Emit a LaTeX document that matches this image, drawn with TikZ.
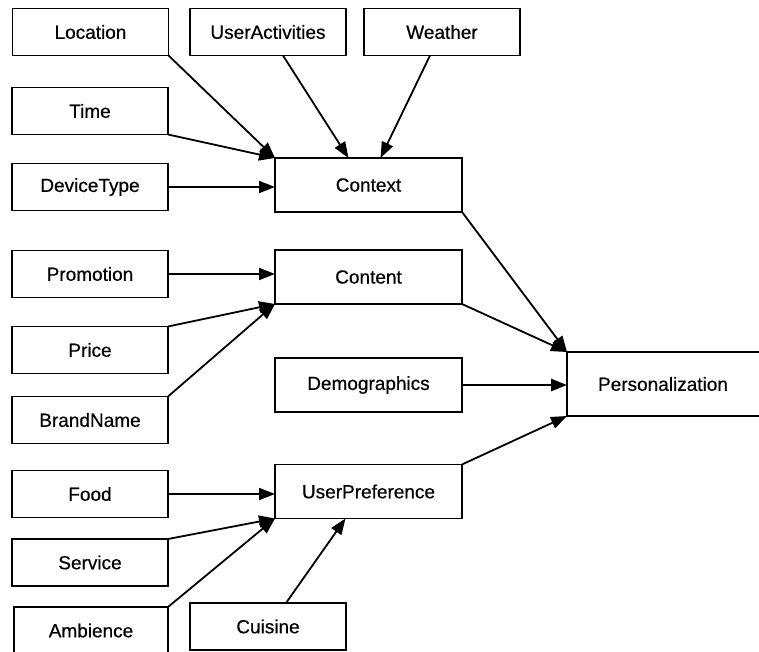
\documentclass[tikz,border=0pt]{standalone}
\usepackage{fontspec}
\setmainfont{Liberation Sans}[FakeBold=0.5]
\usetikzlibrary{arrows.meta}
\begin{document}
\begin{tikzpicture}[x=1pt,y=-1pt,
  box/.style={draw=black,line width=1.8pt,inner sep=0pt,outer sep=0pt,
    minimum width=156pt,minimum height=47pt,font=\fontsize{19}{21}\selectfont},
  bigbox/.style={box,minimum width=187pt,minimum height=54pt},
  openbox/.style={box,draw=none},
  conn/.style={line width=1.8pt,-{Triangle[length=16pt,width=12pt]}},
  thick conn/.style={conn,line width=2.8pt}]
\useasboundingbox (0,0) rectangle (759,652);
% left column
\node[box] (loc)   at (90.5,32) {Location};
\node[box] (ua)    at (268,32)  {UserActivities};
\node[box] (wea)   at (442,32)  {Weather};
\node[box] (time)  at (90,111)  {Time};
\node[box] (dev)   at (90,187)  {DeviceType};
\node[box] (prom)  at (90,274)  {Promotion};
\node[box] (price) at (90,350)  {Price};
\node[box] (brand) at (90,420)  {BrandName};
\node[box] (food)  at (90,494)  {Food};
\node[box] (serv)  at (90,562.5){Service};
\node[openbox,minimum width=154pt] (amb) at (91,630.5) {Ambience};
\draw[line width=1.8pt] (amb.south west) -- (amb.north west) -- (amb.north east) -- (amb.south east);
\node[box] (cuis)  at (268,626.5){Cuisine};
% middle column
\node[bigbox] (ctx)   at (368.5,185)   {Context};
\node[bigbox] (cont)  at (368.5,277)   {Content};
\node[bigbox] (demo)  at (368.5,385)   {Demographics};
\node[bigbox] (upref) at (368.5,491.5) {UserPreference};
% right
\node[openbox,minimum width=192pt,minimum height=64pt] (pers) at (663,384) {Personalization};
\draw[line width=1.8pt] (pers.north east) -- (pers.north west) -- (pers.south west) -- (pers.south east);
% connectors to Context
\draw[conn] (loc.south east) -- (ctx.north west);
\draw[conn] (time.south east) -- (ctx.north west);
\draw[conn] (dev.east) -- (dev.east -| ctx.west);
\draw[conn] ([xshift=15pt]ua.south) -- ([xshift=-20pt]ctx.north);
\draw[conn] ([xshift=-12pt]wea.south) -- ([xshift=12pt]ctx.north);
% connectors to Content
\draw[conn] (prom.east) -- (prom.east -| cont.west);
\draw[conn] (price.north east) -- (cont.south west);
\draw[conn] (brand.north east) -- (cont.south west);
% connectors to UserPreference
\draw[conn] (food.east) -- (food.east -| upref.west);
\draw[conn] (serv.north east) -- (upref.south west);
\draw[conn] (amb.north east) -- (upref.south west);
\draw[conn] ([xshift=18pt]cuis.north) -- ([xshift=-23pt]upref.south);
% connectors to Personalization
\draw[conn] (ctx.south east) -- (pers.north west);
\draw[conn] (cont.south east) -- (pers.north west);
\draw[thick conn] (demo.east) -- (demo.east -| pers.west);
\draw[conn] (upref.north east) -- (pers.south west);
\end{tikzpicture}
\end{document}
